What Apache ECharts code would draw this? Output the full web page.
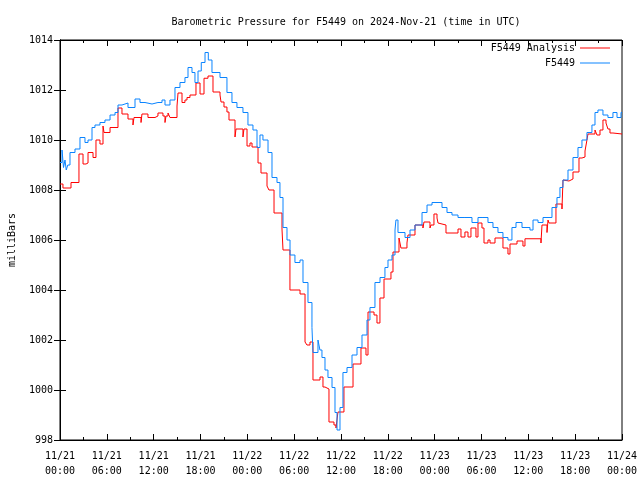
<!DOCTYPE html>
<html>
<head>
<meta charset="utf-8">
<script src="https://cdn.jsdelivr.net/npm/echarts@6/dist/echarts.min.js"></script>
<style>html,body{margin:0;padding:0;background:#fff}#c{width:640px;height:480px}</style>
</head>
<body>
<div id="c"></div>
<script>
// hours since 2024-11-21 00:00 UTC, pressure in mb
const analysisData = [
[0,1008.24],[0.38,1008.08],[1.41,1008.3],[2.43,1009.44],[2.95,1009.04],[3.33,1009.08],[3.59,1009.5],[4.23,1009.3],[4.61,1010.0],[5.12,1009.84],[5.51,1010.56],[5.64,1010.3],[6.41,1010.5],[7.43,1011.28],[7.94,1011.04],[8.71,1010.84],[9.35,1010.6],[9.48,1010.9],[10.38,1010.7],[10.5,1011.04],[11.27,1010.9],[12.17,1010.96],[12.55,1011.08],[13.19,1010.96],[13.45,1010.7],[13.58,1010.96],[13.84,1011.08],[14.09,1010.9],[14.99,1011.36],[15.12,1011.88],[15.63,1011.5],[16.01,1011.6],[16.27,1011.7],[16.65,1011.8],[17.42,1012.28],[17.94,1011.84],[18.45,1012.47],[18.96,1012.56],[19.6,1011.92],[20.5,1011.8],[20.63,1011.52],[21.01,1011.32],[21.39,1011.12],[21.65,1010.8],[22.42,1010.12],[22.55,1010.44],[23.44,1010.12],[23.57,1010.44],[23.96,1009.76],[24.34,1009.88],[24.6,1009.72],[25.37,1009.08],[25.75,1008.68],[26.52,1008.16],[26.77,1008.0],[27.42,1007.08],[28.44,1006.44],[28.57,1005.6],[29.46,1004.0],[30.75,1003.84],[31.39,1001.92],[31.64,1001.8],[32.03,1001.92],[32.41,1000.4],[33.31,1000.52],[33.69,1000.12],[33.95,1000.04],[34.46,998.72],[35.1,998.6],[35.36,998.48],[35.61,999.12],[36.38,1000.12],[37.54,1001.04],[38.56,1001.68],[39.2,1001.4],[39.46,1003.12],[40.23,1003.0],[40.61,1002.68],[40.99,1003.68],[41.51,1004.44],[42.4,1004.72],[42.66,1005.52],[43.43,1006.08],[43.68,1005.68],[44.45,1005.88],[44.58,1006.2],[45.48,1006.6],[46.5,1006.48],[46.63,1006.72],[47.4,1006.48],[47.53,1006.6],[47.91,1007.04],[48.3,1006.88],[48.43,1006.68],[48.68,1006.6],[49.45,1006.28],[50.99,1006.44],[51.37,1006.12],[51.88,1006.32],[52.27,1006.12],[52.65,1006.48],[53.29,1006.12],[53.55,1006.68],[54.06,1006.48],[54.32,1005.88],[54.83,1006.0],[55.09,1005.88],[55.73,1006.08],[56.75,1005.68],[57.39,1005.44],[57.65,1005.84],[58.55,1005.96],[59.31,1005.76],[59.57,1006.05],[61.62,1005.88],[61.75,1006.6],[62.39,1006.3],[62.52,1006.8],[62.64,1006.68],[63.54,1007.44],[64.31,1007.24],[64.44,1008.4],[64.69,1008.36],[65.21,1008.44],[65.72,1008.72],[66.49,1009.28],[66.87,1009.32],[67.26,1009.56],[67.51,1010.0],[67.64,1010.24],[68.54,1010.4],[68.79,1010.2],[69.18,1010.4],[69.56,1010.8],[69.95,1010.68],[70.2,1010.44],[70.46,1010.28],[70.84,1010.24],[72,1010.24]
];
const stationData = [
[0,1009.1],[0.26,1009.6],[0.45,1008.9],[0.64,1009.2],[0.8,1008.8],[1.0,1009.0],[1.28,1009.5],[1.92,1009.64],[2.56,1010.1],[3.2,1009.9],[3.59,1010.0],[4.1,1010.5],[4.48,1010.6],[5.12,1010.7],[5.76,1010.8],[6.41,1011.0],[7.05,1011.1],[7.43,1011.4],[7.94,1011.48],[8.71,1011.3],[9.61,1011.64],[10.25,1011.5],[10.89,1011.44],[11.79,1011.5],[12.55,1011.5],[13.07,1011.6],[13.45,1011.4],[14.09,1011.6],[14.73,1012.1],[15.37,1012.3],[16.01,1012.5],[16.4,1012.9],[16.91,1012.7],[17.29,1012.3],[17.68,1012.76],[18.1,1013.1],[18.58,1013.5],[19.0,1013.2],[19.47,1012.7],[20.5,1012.5],[21.39,1011.9],[22.03,1011.5],[22.67,1011.3],[23.44,1011.1],[24.08,1010.6],[24.72,1010.4],[25.24,1009.7],[25.62,1010.2],[26.0,1010.0],[26.65,1009.5],[27.16,1008.5],[27.8,1008.3],[28.18,1007.7],[28.57,1006.5],[29.08,1006.0],[29.47,1005.4],[30.1,1005.1],[30.75,1005.2],[31.13,1004.3],[31.77,1003.5],[32.28,1002.5],[32.41,1001.5],[33.05,1002.0],[33.3,1001.6],[33.56,1001.3],[33.95,1000.8],[34.33,1000.5],[34.85,1000.1],[35.23,999.1],[35.49,998.4],[35.87,999.3],[36.25,1000.7],[36.77,1000.9],[37.41,1001.4],[38.05,1001.7],[38.69,1002.2],[39.33,1002.8],[39.71,1003.3],[40.35,1004.3],[41.0,1004.5],[41.63,1004.9],[42.02,1005.2],[42.53,1005.4],[42.92,1006.4],[43.04,1006.8],[43.3,1006.3],[44.2,1006.1],[44.84,1006.4],[45.48,1006.6],[46.38,1007.1],[47.02,1007.4],[47.66,1007.5],[48.3,1007.5],[48.94,1007.3],[49.58,1007.1],[50.22,1007.0],[50.99,1006.9],[51.88,1006.9],[52.78,1006.7],[53.55,1006.9],[54.19,1006.9],[54.83,1006.7],[55.47,1006.5],[56.11,1006.3],[56.75,1006.1],[57.39,1006.0],[57.9,1006.5],[58.42,1006.7],[59.19,1006.5],[59.83,1006.5],[60.21,1006.4],[60.6,1006.8],[61.24,1006.7],[61.88,1006.9],[62.52,1006.9],[63.03,1007.3],[63.67,1007.7],[64.05,1008.1],[64.44,1008.4],[65.08,1008.8],[65.72,1009.3],[66.36,1009.7],[66.87,1010.0],[67.51,1010.3],[68.15,1010.6],[68.54,1011.1],[68.92,1011.2],[69.56,1011.0],[70.2,1010.9],[70.84,1011.1],[71.36,1010.9],[71.87,1011.1],[72,1011.1]
];
const xTickLabels = ['11/21\n00:00','11/21\n06:00','11/21\n12:00','11/21\n18:00','11/22\n00:00','11/22\n06:00','11/22\n12:00','11/22\n18:00','11/23\n00:00','11/23\n06:00','11/23\n12:00','11/23\n18:00','11/24\n00:00'];
const seriesNames = ['F5449 Analysis','F5449'];
const titleText = 'Barometric Pressure for F5449 on 2024-Nov-21 (time in UTC)';
const yName = 'milliBars';

const FONT = 'DejaVu Sans Mono';
const txt = {fontFamily: FONT, fontSize: 10, color: '#000'};
const axLine = {show: true, lineStyle: {color: '#000', width: 1}};

const chart = echarts.init(document.getElementById('c'), null, {renderer: 'canvas'});
chart.setOption({
  animation: false,
  backgroundColor: '#fff',
  title: {text: titleText, left: 341, textAlign: 'center', top: 12, textStyle: Object.assign({fontWeight: 'normal'}, txt)},
  grid: {left: 60, right: 18, top: 40, bottom: 40, show: true, borderColor: '#000', borderWidth: 1, containLabel: false, outerBoundsMode: 'none'},
  legend: [
    {data: [seriesNames[0]], right: 30, top: 43, padding: 0, itemWidth: 30, itemHeight: 1, align: 'right', icon: 'rect', itemGap: 0, textStyle: txt},
    {data: [seriesNames[1]], right: 30, top: 58, padding: 0, itemWidth: 30, itemHeight: 1, align: 'right', icon: 'rect', itemGap: 0, textStyle: txt}
  ],
  xAxis: [
    {type: 'value', min: 0, max: 72, interval: 6, position: 'bottom',
     axisLine: axLine, axisTick: {show: true, inside: true, length: 6, lineStyle: {color: '#000'}},
     minorTick: {show: true, splitNumber: 2, length: 3, lineStyle: {color: '#000'}},
     splitLine: {show: false},
     axisLabel: Object.assign({margin: 9, lineHeight: 15, hideOverlap: false, formatter: v => xTickLabels[Math.round(v / 6)]}, txt)},
    {type: 'value', min: 0, max: 72, interval: 6, position: 'top',
     axisLine: axLine, axisTick: {show: true, inside: true, length: 6, lineStyle: {color: '#000'}},
     minorTick: {show: true, splitNumber: 2, length: 3, lineStyle: {color: '#000'}},
     splitLine: {show: false}, axisLabel: {show: false}}
  ],
  yAxis: [
    {type: 'value', min: 998, max: 1014, interval: 2, position: 'left',
     name: yName, nameLocation: 'middle', nameGap: 43, nameRotate: 90, nameTextStyle: txt,
     axisLine: axLine, axisTick: {show: true, inside: true, length: 6, lineStyle: {color: '#000'}},
     splitLine: {show: false},
     axisLabel: Object.assign({margin: 7, formatter: v => String(v)}, txt)},
    {type: 'value', min: 998, max: 1014, interval: 2, position: 'right',
     axisLine: axLine, axisTick: {show: true, inside: true, length: 6, lineStyle: {color: '#000'}},
     splitLine: {show: false}, axisLabel: {show: false}}
  ],
  series: [
    {name: seriesNames[0], type: 'line', step: 'end', data: analysisData, showSymbol: false, symbol: 'none',
     color: '#ff0000', lineStyle: {color: '#ff0000', width: 1}},
    {name: seriesNames[1], type: 'line', step: 'end', data: stationData, showSymbol: false, symbol: 'none',
     color: '#0a84ff', lineStyle: {color: '#0a84ff', width: 1}}
  ]
});
</script>
</body>
</html>
